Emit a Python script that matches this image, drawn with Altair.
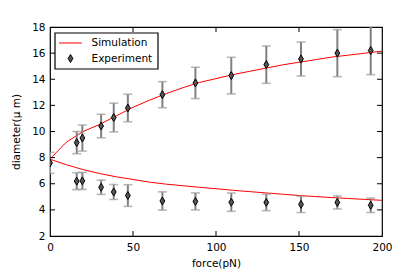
import altair as alt
import pandas as pd

# ---- data ----
sim_force = [0, 10, 20, 30, 40, 50, 60, 70, 80, 90, 100, 110, 120, 130, 140, 150, 160, 170, 180, 190, 200]
sim_upper = [7.9, 9.2, 10.0, 10.55, 11.2, 11.85, 12.4, 12.9, 13.35, 13.75, 14.05, 14.35, 14.6, 14.85, 15.1, 15.3, 15.5, 15.7, 15.85, 16.0, 16.15]
sim_lower = [7.88, 7.45, 7.08, 6.78, 6.53, 6.33, 6.12, 5.97, 5.85, 5.73, 5.62, 5.5, 5.4, 5.3, 5.2, 5.1, 5.02, 4.94, 4.87, 4.8, 4.73]

up_force = [0, 16.1, 19.5, 30.8, 38.4, 46.9, 67.7, 87.6, 109.2, 130.3, 151.2, 173.1, 193.2]
up_mean = [7.6, 9.15, 9.5, 10.42, 11.07, 11.8, 12.82, 13.72, 14.28, 15.12, 15.55, 16.0, 16.2]
up_err = [0.8, 0.85, 1.0, 0.9, 1.1, 1.05, 1.0, 1.2, 1.4, 1.43, 1.3, 1.8, 1.85]

lo_force = [16.1, 19.5, 30.8, 38.4, 46.9, 67.7, 87.6, 109.2, 130.3, 151.2, 173.1, 193.2]
lo_mean = [6.2, 6.22, 5.73, 5.37, 5.1, 4.68, 4.65, 4.59, 4.57, 4.42, 4.57, 4.35]
lo_err = [0.65, 0.65, 0.55, 0.57, 0.83, 0.7, 0.65, 0.7, 0.63, 0.62, 0.5, 0.55]

x_ticks = [0, 50, 100, 150, 200]
y_ticks = [2, 4, 6, 8, 10, 12, 14, 16, 18]
legend_labels = ["Simulation", "Experiment"]

W, H = 332, 209
FONT = "DejaVu Sans"

sim = pd.concat([
    pd.DataFrame({"force": sim_force, "d": sim_upper, "branch": "upper"}),
    pd.DataFrame({"force": sim_force, "d": sim_lower, "branch": "lower"}),
])
exp = pd.concat([
    pd.DataFrame({"force": up_force, "d": up_mean, "e": up_err}),
    pd.DataFrame({"force": lo_force, "d": lo_mean, "e": lo_err}),
])
exp["lo"] = exp["d"] - exp["e"]
exp["hi"] = exp["d"] + exp["e"]

xs = alt.Scale(domain=[0, 200], nice=False, zero=False)
ys = alt.Scale(domain=[2, 18], nice=False, zero=False)

XA = alt.Axis(title="force(pN)", values=x_ticks, grid=False, domain=False,
              ticks=False, labelPadding=6, titlePadding=6,
              labelOverlap=False, labelFlush=False)
YA = alt.Axis(title="diameter(μ m)", values=y_ticks, grid=False, domain=False,
              ticks=False, labelPadding=5, titlePadding=10,
              labelOverlap=False, labelFlush=False)


def X():
    return alt.X("force:Q", scale=xs, axis=XA)


def Y(f):
    return alt.Y(f"{f}:Q", scale=ys, axis=YA)


lines = alt.Chart(sim).mark_line(color="#ff0000", strokeWidth=1, clip=True).encode(
    x=X(), y=Y("d"), detail="branch:N")

stems = alt.Chart(exp).mark_rule(color="#808080", strokeWidth=2, clip=True).encode(
    x=X(), y=Y("lo"), y2="hi:Q")
cap_lo = alt.Chart(exp).mark_tick(orient="horizontal", color="#9a9a9a", size=9,
                                  thickness=1.6, clip=True).encode(
    x=X(), y=Y("lo"))
cap_hi = alt.Chart(exp).mark_tick(orient="horizontal", color="#9a9a9a", size=9,
                                  thickness=1.6, clip=True).encode(
    x=X(), y=Y("hi"))

DIAMOND = "M0,-1L0.6,0L0,1L-0.6,0Z"
pts = alt.Chart(exp).mark_point(shape=DIAMOND, size=64, filled=True, fill="#555555",
                                stroke="black", strokeWidth=1, opacity=1, clip=True).encode(
    x=X(), y=Y("d"))

# inward ticks on all four sides
xt = pd.DataFrame({"force": x_ticks[1:-1]})
yt = pd.DataFrame({"d": y_ticks[1:-1]})
tb = alt.Chart(xt).mark_rule(color="black", strokeWidth=1).encode(
    x=X(), y=alt.value(H), y2=alt.value(H - 5))
tt = alt.Chart(xt).mark_rule(color="black", strokeWidth=1).encode(
    x=X(), y=alt.value(0), y2=alt.value(5))
tl = alt.Chart(yt).mark_rule(color="black", strokeWidth=1).encode(
    y=Y("d"), x=alt.value(0), x2=alt.value(5))
tr = alt.Chart(yt).mark_rule(color="black", strokeWidth=1).encode(
    y=Y("d"), x=alt.value(W), x2=alt.value(W - 5))

# legend box
one = pd.DataFrame({"k": [0]})
lbox = alt.Chart(one).mark_rect(fill="white", stroke="black", strokeWidth=1.2).encode(
    x=alt.value(5), x2=alt.value(108), y=alt.value(6), y2=alt.value(42))
lline = alt.Chart(one).mark_rule(color="#ff0000", strokeWidth=1).encode(
    x=alt.value(9), x2=alt.value(32), y=alt.value(16))
lpt = alt.Chart(one).mark_point(shape=DIAMOND, size=64, filled=True, fill="#555555",
                                stroke="black", strokeWidth=1, opacity=1).encode(
    x=alt.value(20.5), y=alt.value(31.5))
ltxt1 = alt.Chart(one).mark_text(text=legend_labels[0], align="left", baseline="middle",
                                 font=FONT, fontSize=10.5, color="black").encode(
    x=alt.value(41.5), y=alt.value(16))
ltxt2 = alt.Chart(one).mark_text(text=legend_labels[1], align="left", baseline="middle",
                                 font=FONT, fontSize=10.5, color="black").encode(
    x=alt.value(41.5), y=alt.value(31.5))

chart = alt.layer(
    lines, stems, cap_lo, cap_hi, pts, tb, tt, tl, tr,
    lbox, lline, lpt, ltxt1, ltxt2
).properties(
    width=W, height=H,
    autosize=alt.AutoSizeParams(type="none"),
    padding={"left": 42, "top": 19, "right": 25, "bottom": 34},
).configure_view(
    stroke="black", strokeWidth=1.2
).configure_axis(
    labelFont=FONT, titleFont=FONT, labelFontSize=10.5, titleFontSize=10.5,
    labelColor="black", titleColor="black", titleFontWeight="normal",
    labelOverlap=False, labelFlush=False
)

chart.save("out.html", embed_options={"renderer": "svg", "actions": False})
